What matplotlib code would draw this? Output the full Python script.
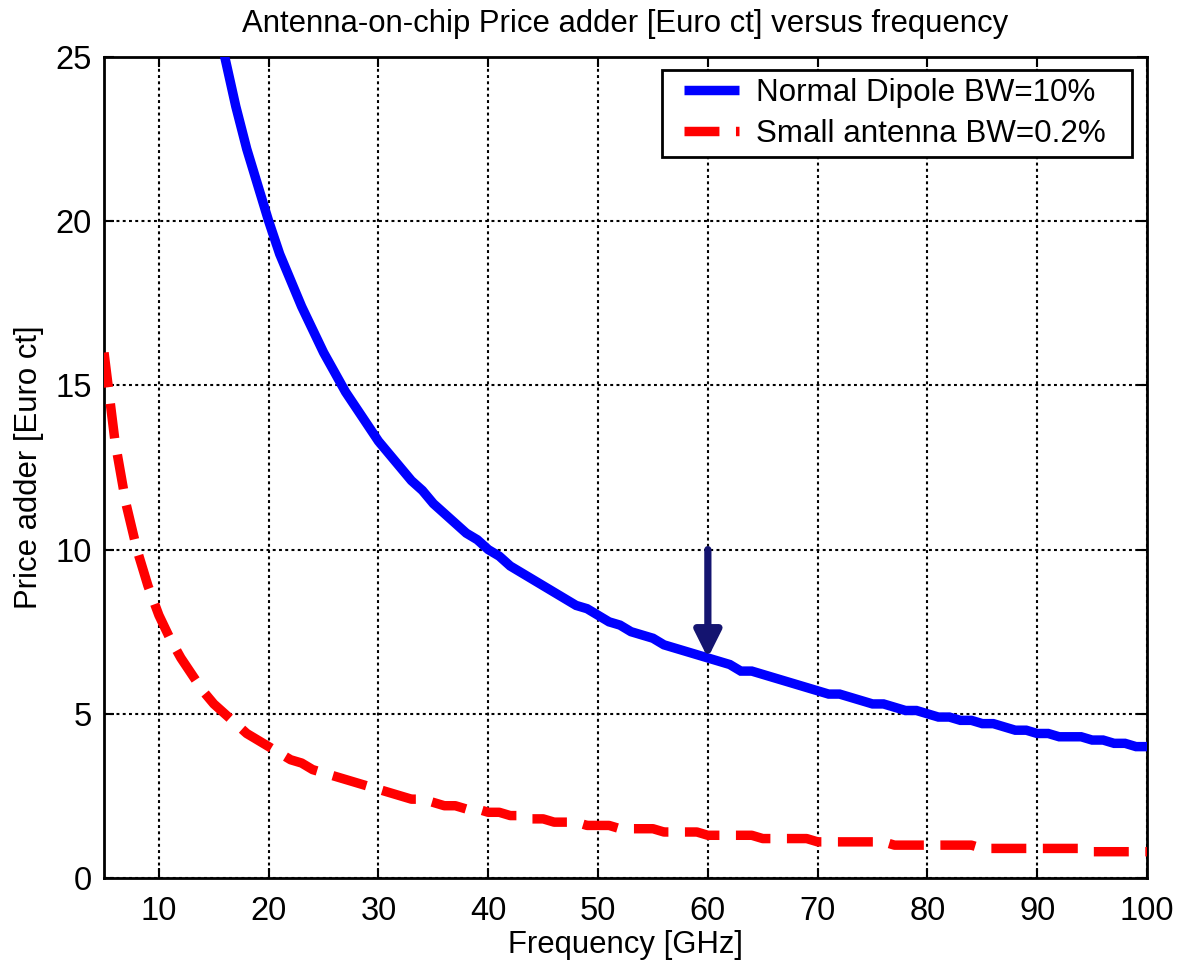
import numpy as np
import matplotlib
matplotlib.use("Agg")
import matplotlib.pyplot as plt
from matplotlib.legend_handler import HandlerLine2D

plt.rcParams['font.family'] = ['Liberation Sans', 'DejaVu Sans']

# Frequency samples [GHz]
freq_dipole = np.arange(15, 101)
freq_small = np.arange(5, 101)

# Price adder [Euro ct]
price_dipole = [
    26.7, 25.0, 23.5, 22.2, 21.1, 20.0, 19.0, 18.2, 17.4, 16.7,
    16.0, 15.4, 14.8, 14.3, 13.8, 13.3, 12.9, 12.5, 12.1, 11.8,
    11.4, 11.1, 10.8, 10.5, 10.3, 10.0, 9.8, 9.5, 9.3, 9.1,
    8.9, 8.7, 8.5, 8.3, 8.2, 8.0, 7.8, 7.7, 7.5, 7.4,
    7.3, 7.1, 7.0, 6.9, 6.8, 6.7, 6.6, 6.5, 6.3, 6.3,
    6.2, 6.1, 6.0, 5.9, 5.8, 5.7, 5.6, 5.6, 5.5, 5.4,
    5.3, 5.3, 5.2, 5.1, 5.1, 5.0, 4.9, 4.9, 4.8, 4.8,
    4.7, 4.7, 4.6, 4.5, 4.5, 4.4, 4.4, 4.3, 4.3, 4.3,
    4.2, 4.2, 4.1, 4.1, 4.0, 4.0,
]
price_small = [
    16.0, 13.3, 11.4, 10.0, 8.9, 8.0, 7.3, 6.7, 6.2, 5.7,
    5.3, 5.0, 4.7, 4.4, 4.2, 4.0, 3.8, 3.6, 3.5, 3.3,
    3.2, 3.1, 3.0, 2.9, 2.8, 2.7, 2.6, 2.5, 2.4, 2.4,
    2.3, 2.2, 2.2, 2.1, 2.1, 2.0, 2.0, 1.9, 1.9, 1.8,
    1.8, 1.7, 1.7, 1.7, 1.6, 1.6, 1.6, 1.5, 1.5, 1.5,
    1.5, 1.4, 1.4, 1.4, 1.4, 1.3, 1.3, 1.3, 1.3, 1.3,
    1.2, 1.2, 1.2, 1.2, 1.2, 1.1, 1.1, 1.1, 1.1, 1.1,
    1.1, 1.1, 1.0, 1.0, 1.0, 1.0, 1.0, 1.0, 1.0, 1.0,
    0.9, 0.9, 0.9, 0.9, 0.9, 0.9, 0.9, 0.9, 0.9, 0.9,
    0.8, 0.8, 0.8, 0.8, 0.8, 0.8,
]

# Highlighted operating point
arrow_freq = 60
arrow_start = 10.0
arrow_end = 6.7

x_ticks = [10, 20, 30, 40, 50, 60, 70, 80, 90, 100]
y_ticks = [0, 5, 10, 15, 20, 25]

fig = plt.figure(figsize=(11.78, 9.68), dpi=100)
ax = fig.add_axes([0.0883, 0.0930, 0.8854, 0.8481])

ax.plot(freq_dipole, price_dipole, color='#0000ff', lw=6.8,
        solid_joinstyle='miter', solid_capstyle='butt',
        label='Normal Dipole BW=10%', zorder=3)
ax.plot(freq_small, price_small, color='#ff0000', lw=6.8,
        dashes=(3.7, 1.75), dash_capstyle='butt',
        label='Small antenna BW=0.2%', zorder=3)

ax.annotate('', xy=(arrow_freq, arrow_end), xytext=(arrow_freq, arrow_start),
            arrowprops=dict(arrowstyle='-|>,head_width=0.4,head_length=0.8',
                            color='#141470', lw=5.2, shrinkA=0, shrinkB=0,
                            mutation_scale=20),
            zorder=4)

ax.set_xlim(5, 100)
ax.set_ylim(0, 25)
ax.set_xticks(x_ticks)
ax.set_yticks(y_ticks)

ax.grid(True, color='black', linestyle=(0, (1.4, 1.6)), linewidth=1.5)
ax.set_axisbelow(True)

ax.tick_params(direction='in', length=7, width=1.5, top=True, right=True,
               labelsize=23.5)
ax.tick_params(axis='x', pad=13)
ax.tick_params(axis='y', pad=9)
for sp in ax.spines.values():
    sp.set_linewidth(2.0)

ax.set_title('Antenna-on-chip Price adder [Euro ct] versus frequency',
             fontsize=22.4, pad=18)
ax.set_xlabel('Frequency [GHz]', fontsize=22.4, labelpad=2)
ax.set_ylabel('Price adder [Euro ct]', fontsize=22.4, labelpad=8)

# Legend box spanning a fixed width in the upper right corner
leg = ax.legend(loc='upper right', fontsize=22.6, frameon=True, fancybox=False,
                edgecolor='black', framealpha=1.0, borderpad=0.25,
                handlelength=2.2, handletextpad=0.55, borderaxespad=0.0,
                labelspacing=0.35, mode='expand',
                bbox_to_anchor=(0.535, 0.8842, 0.4506, 0.1),
                handler_map={plt.Line2D: HandlerLine2D(xpad=0.45)})
leg.get_frame().set_linewidth(2.0)

fig.savefig('out.png', dpi=100)
